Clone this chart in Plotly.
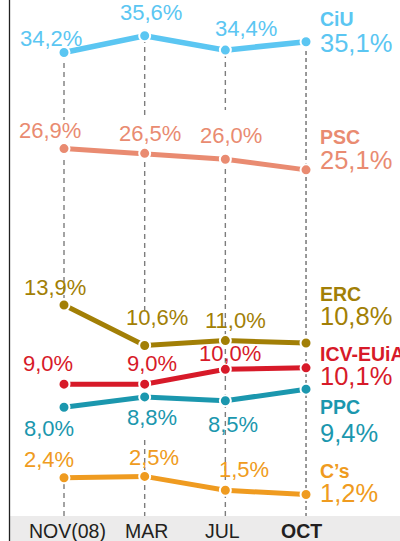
import plotly.graph_objects as go

# ---- data ----
months = ["NOV(08)", "MAR", "JUL", "OCT"]
parties = ["CiU", "PSC", "ERC", "ICV-EUiA", "PPC", "C’s"]
ciu = [34.2, 35.6, 34.4, 35.1]
psc = [26.9, 26.5, 26.0, 25.1]
erc = [13.9, 10.6, 11.0, 10.8]
icv = [9.0, 9.0, 10.0, 10.1]
ppc = [8.0, 8.8, 8.5, 9.4]
cs = [2.4, 2.5, 1.5, 1.2]
series = [ciu, psc, erc, icv, ppc, cs]

# ---- styles ----
colors = ["#5bc6f2", "#e98b71", "#a27f06", "#d71a29", "#1b97ae", "#ef9b20"]
line_w = [5.5, 5, 5, 5, 5, 5]
# each series has its own (hidden) value axis, same kind of scale, shifted for legibility
ranges = [(-4.36, 38.57), (-4.16, 39.46), (-3.31, 38.78), (0.11, 34.90), (-0.43, 39.57), (-0.35, 36.80)]
# label offsets (px) for first three points: (dx, dy up)
offsets = [
    [(-13.5, 14.5), (6, 23), (20.5, 22)],
    [(-14.5, 18), (5, 19.5), (5.5, 23.5)],
    [(-9.5, 18), (12.5, 27.5), (10, 20)],
    [(-16.5, 20.5), (7, 20.5), (4.5, 16)],
    [(-15.5, -21.5), (7.5, -21), (8, -23.5)],
    [(-15.5, 18.5), (9, 18.5), (19, 21)],
]
# end label vertical centres (px from top): (name, value)
end_pos = [(19.5, 43), (137, 159.5), (294, 316), (354, 375.5), (407, 432.5), (471, 493)]

H = 516.0
FONT = "Liberation Sans, Arial, Helvetica, sans-serif"


def fmt(v):
    return f"{v:.1f}".replace(".", ",") + "%"


def py(px):
    return 1 - px / H


fig = go.Figure()
x = list(range(len(months)))
annotations = []
shapes = []

# dashed guide segments (px ranges)
guides = {
    0: [(54, 120), (160, 298), (484, 516)],
    1: [(38, 118), (153, 313), (440, 516)],
    2: [(53, 110), (160, 516)],
}
for xi, segs in guides.items():
    for a, b in segs:
        shapes.append(dict(type="line", xref="x", yref="paper", x0=xi, x1=xi, y0=py(a), y1=py(b),
                           line=dict(color="#7d7d7d", width=1.4, dash="5px,4px"), layer="below"))
shapes.append(dict(type="line", xref="x", yref="paper", x0=3, x1=3, y0=py(44), y1=py(516),
                   line=dict(color="#333333", width=1, dash="4px,3px"), layer="below"))
# bottom band and left rule
shapes.append(dict(type="rect", xref="paper", yref="paper", x0=10 / 400, x1=1, y0=py(516), y1=py(541),
                   fillcolor="#ecebeb", line=dict(width=0), layer="below"))
shapes.append(dict(type="line", xref="paper", yref="paper", x0=9.5 / 400, x1=9.5 / 400, y0=py(0), y1=py(541),
                   line=dict(color="#222222", width=1.3)))

for i, vals in enumerate(series):
    yax = "y" if i == 0 else f"y{i + 1}"
    c = colors[i]
    fig.add_trace(go.Scatter(
        x=x, y=vals, mode="lines+markers", yaxis=yax,
        line=dict(color=c, width=line_w[i]),
        marker=dict(size=11, color=c, line=dict(color="white", width=2)),
        hoverinfo="skip", showlegend=False, cliponaxis=False))
    for j in range(3):
        dx, dy = offsets[i][j]
        annotations.append(dict(x=x[j], y=vals[j], xref="x", yref=yax, text=fmt(vals[j]),
                                showarrow=False, xshift=dx, yshift=dy, xanchor="center", yanchor="middle",
                                font=dict(family=FONT, size=22, color=c)))
    npx, vpx = end_pos[i]
    annotations.append(dict(x=318 / 400, y=py(npx), xref="paper", yref="paper", text=f"<b>{parties[i]}</b>",
                            showarrow=False, xanchor="left", yanchor="middle",
                            font=dict(family=FONT, size=19.5, color=c)))
    annotations.append(dict(x=318 / 400, y=py(vpx), xref="paper", yref="paper", text=fmt(vals[3]),
                            showarrow=False, xanchor="left", yanchor="middle",
                            font=dict(family=FONT, size=25.5, color=c)))

# month labels in the band
month_dx = [3.5, 1.5, -3, -5]
for j, m in enumerate(months):
    txt = f"<b>{m}</b>" if j == len(months) - 1 else m
    annotations.append(dict(x=x[j], y=py(531), xref="x", yref="paper", text=txt, showarrow=False,
                            xshift=month_dx[j], xanchor="center", yanchor="middle", borderpad=0,
                            font=dict(family=FONT, size=19.5, color="#231f20")))

layout_axes = {}
for i, (r0, r1) in enumerate(ranges):
    key = "yaxis" if i == 0 else f"yaxis{i + 1}"
    ax = dict(range=[r0, r1], visible=False, fixedrange=True, domain=[0, 1])
    if i > 0:
        ax["overlaying"] = "y"
    layout_axes[key] = ax

fig.update_layout(
    width=400, height=541,
    margin=dict(l=0, r=0, t=0, b=25),
    paper_bgcolor="white", plot_bgcolor="white",
    showlegend=False,
    xaxis=dict(range=[-0.7934, 4.165], visible=False, fixedrange=True),
    annotations=annotations, shapes=shapes,
    **layout_axes,
)

fig.write_html("out.html", config={"displayModeBar": False, "staticPlot": True},
               post_script="document.body.style.margin='0';document.body.style.overflow='hidden';")
